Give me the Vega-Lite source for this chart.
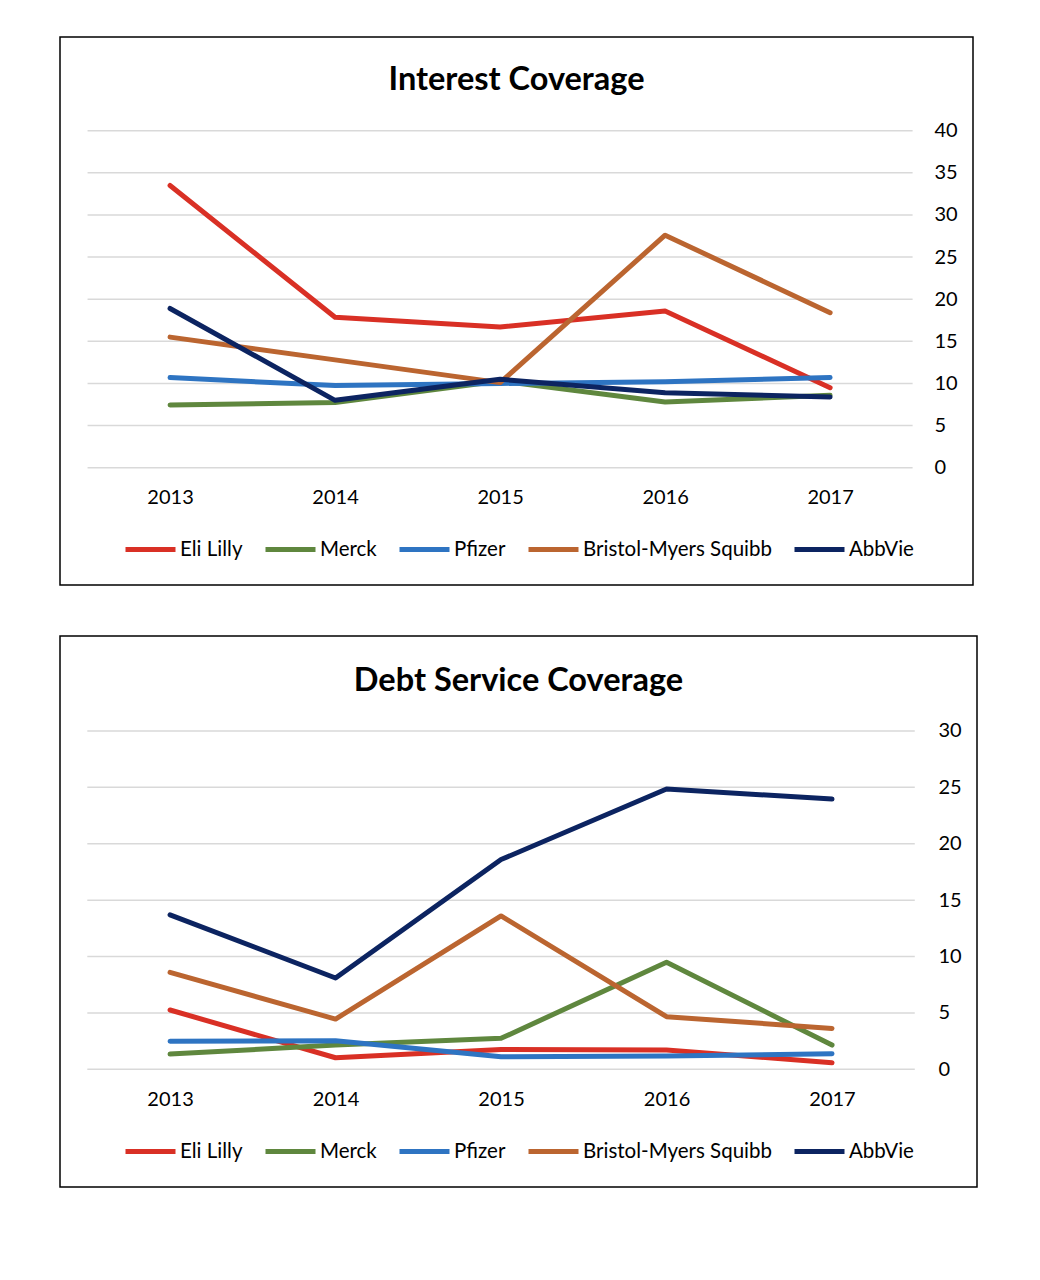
{
  "$schema": "https://vega.github.io/schema/vega-lite/v6.json",
  "padding": {"left": 59, "top": 36, "right": 0, "bottom": 0},
  "autosize": {"type": "pad"},
  "config": {
    "font": "Lato",
    "view": {"stroke": "black", "strokeWidth": 1.5},
    "axis": {"labelFont": "Lato", "labelFontSize": 20, "labelColor": "#000000", "domain": false, "ticks": false, "grid": false, "title": null},
    "legend": {"labelFont": "Lato", "labelFontSize": 20.5, "labelColor": "#000000", "labelLimit": 0},
    "title": {"font": "Lato", "fontSize": 32.5, "fontWeight": "bold", "color": "#000000"}
  },
  "datasets": {
    "interest": [
      {"year": 2013, "company": "Eli Lilly", "value": 33.5},
      {"year": 2014, "company": "Eli Lilly", "value": 17.85},
      {"year": 2015, "company": "Eli Lilly", "value": 16.7},
      {"year": 2016, "company": "Eli Lilly", "value": 18.6},
      {"year": 2017, "company": "Eli Lilly", "value": 9.5},
      {"year": 2013, "company": "Merck", "value": 7.45},
      {"year": 2014, "company": "Merck", "value": 7.75},
      {"year": 2015, "company": "Merck", "value": 10.3},
      {"year": 2016, "company": "Merck", "value": 7.8},
      {"year": 2017, "company": "Merck", "value": 8.6},
      {"year": 2013, "company": "Pfizer", "value": 10.7},
      {"year": 2014, "company": "Pfizer", "value": 9.75},
      {"year": 2015, "company": "Pfizer", "value": 10.0},
      {"year": 2016, "company": "Pfizer", "value": 10.2},
      {"year": 2017, "company": "Pfizer", "value": 10.7},
      {"year": 2013, "company": "Bristol-Myers Squibb", "value": 15.5},
      {"year": 2014, "company": "Bristol-Myers Squibb", "value": 12.8},
      {"year": 2015, "company": "Bristol-Myers Squibb", "value": 10.1},
      {"year": 2016, "company": "Bristol-Myers Squibb", "value": 27.6},
      {"year": 2017, "company": "Bristol-Myers Squibb", "value": 18.4},
      {"year": 2013, "company": "AbbVie", "value": 18.9},
      {"year": 2014, "company": "AbbVie", "value": 8.0},
      {"year": 2015, "company": "AbbVie", "value": 10.5},
      {"year": 2016, "company": "AbbVie", "value": 8.9},
      {"year": 2017, "company": "AbbVie", "value": 8.4}
    ],
    "dscr": [
      {"year": 2013, "company": "Eli Lilly", "value": 5.26},
      {"year": 2014, "company": "Eli Lilly", "value": 1.03},
      {"year": 2015, "company": "Eli Lilly", "value": 1.77},
      {"year": 2016, "company": "Eli Lilly", "value": 1.71},
      {"year": 2017, "company": "Eli Lilly", "value": 0.59},
      {"year": 2013, "company": "Merck", "value": 1.36},
      {"year": 2014, "company": "Merck", "value": 2.15},
      {"year": 2015, "company": "Merck", "value": 2.75},
      {"year": 2016, "company": "Merck", "value": 9.49},
      {"year": 2017, "company": "Merck", "value": 2.15},
      {"year": 2013, "company": "Pfizer", "value": 2.5},
      {"year": 2014, "company": "Pfizer", "value": 2.54},
      {"year": 2015, "company": "Pfizer", "value": 1.12},
      {"year": 2016, "company": "Pfizer", "value": 1.18},
      {"year": 2017, "company": "Pfizer", "value": 1.38},
      {"year": 2013, "company": "Bristol-Myers Squibb", "value": 8.6},
      {"year": 2014, "company": "Bristol-Myers Squibb", "value": 4.46},
      {"year": 2015, "company": "Bristol-Myers Squibb", "value": 13.6},
      {"year": 2016, "company": "Bristol-Myers Squibb", "value": 4.67},
      {"year": 2017, "company": "Bristol-Myers Squibb", "value": 3.63},
      {"year": 2013, "company": "AbbVie", "value": 13.7},
      {"year": 2014, "company": "AbbVie", "value": 8.1},
      {"year": 2015, "company": "AbbVie", "value": 18.6},
      {"year": 2016, "company": "AbbVie", "value": 24.85},
      {"year": 2017, "company": "AbbVie", "value": 23.96}
    ],
    "grid40": [{"v": 0}, {"v": 5}, {"v": 10}, {"v": 15}, {"v": 20}, {"v": 25}, {"v": 30}, {"v": 35}, {"v": 40}],
    "grid30": [{"v": 0}, {"v": 5}, {"v": 10}, {"v": 15}, {"v": 20}, {"v": 25}, {"v": 30}]
  },
  "spacing": 49,
  "vconcat": [
    {
      "width": 913,
      "height": 548,
      "title": {"text": "Interest Coverage", "offset": -59, "frame": "group"},
      "layer": [
        {
          "data": {"name": "grid40"},
          "mark": {"type": "rule", "color": "#d9d9d9", "strokeWidth": 1.5},
          "encoding": {
            "y": {"field": "v", "type": "quantitative", "scale": {"domain": [-13.92, 51.12], "nice": false, "zero": false}},
            "x": {"datum": 2012.5, "type": "quantitative", "scale": {"domain": [2012.333, 2017.866], "nice": false, "zero": false}},
            "x2": {"datum": 2017.5}
          }
        },
        {
          "data": {"name": "interest"},
          "mark": {"type": "line", "strokeWidth": 5, "strokeCap": "round", "strokeJoin": "round"},
          "encoding": {
            "x": {"field": "year", "type": "quantitative", "axis": {"values": [2013, 2014, 2015, 2016, 2017], "format": "d", "orient": "bottom", "offset": -117, "labelPadding": 19}},
            "y": {"field": "value", "type": "quantitative", "axis": {"values": [0, 5, 10, 15, 20, 25, 30, 35, 40], "orient": "right", "offset": -61, "labelPadding": 22, "labelBaseline": "middle"}},
            "color": {
              "field": "company",
              "type": "nominal",
              "sort": ["Eli Lilly", "Merck", "Pfizer", "Bristol-Myers Squibb", "AbbVie"],
              "scale": {"domain": ["Eli Lilly", "Merck", "Pfizer", "Bristol-Myers Squibb", "AbbVie"], "range": ["#d93025", "#5f873e", "#2e74c2", "#bb6530", "#0c2461"]},
              "legend": {"orient": "none", "legendX": 63, "legendY": 485, "direction": "horizontal", "columns": 5, "title": null, "symbolType": "stroke", "symbolSize": 2500, "symbolStrokeWidth": 5, "labelOffset": 2, "columnPadding": 12}
            }
          }
        }
      ]
    },
    {
      "width": 917,
      "height": 551,
      "title": {"text": "Debt Service Coverage", "offset": -61, "frame": "group"},
      "layer": [
        {
          "data": {"name": "grid30"},
          "mark": {"type": "rule", "color": "#d9d9d9", "strokeWidth": 1.5},
          "encoding": {
            "y": {"field": "v", "type": "quantitative", "scale": {"domain": [-10.43, 38.42], "nice": false, "zero": false}},
            "x": {"datum": 2012.5, "type": "quantitative", "scale": {"domain": [2012.335, 2017.876], "nice": false, "zero": false}},
            "x2": {"datum": 2017.5}
          }
        },
        {
          "data": {"name": "dscr"},
          "mark": {"type": "line", "strokeWidth": 5, "strokeCap": "round", "strokeJoin": "round"},
          "encoding": {
            "x": {"field": "year", "type": "quantitative", "axis": {"values": [2013, 2014, 2015, 2016, 2017], "format": "d", "orient": "bottom", "offset": -118, "labelPadding": 20}},
            "y": {"field": "value", "type": "quantitative", "axis": {"values": [0, 5, 10, 15, 20, 25, 30], "orient": "right", "offset": -62, "labelPadding": 23, "labelBaseline": "middle"}},
            "color": {
              "field": "company",
              "type": "nominal",
              "sort": ["Eli Lilly", "Merck", "Pfizer", "Bristol-Myers Squibb", "AbbVie"],
              "scale": {"domain": ["Eli Lilly", "Merck", "Pfizer", "Bristol-Myers Squibb", "AbbVie"], "range": ["#d93025", "#5f873e", "#2e74c2", "#bb6530", "#0c2461"]},
              "legend": {"orient": "none", "legendX": 63, "legendY": 488, "direction": "horizontal", "columns": 5, "title": null, "symbolType": "stroke", "symbolSize": 2500, "symbolStrokeWidth": 5, "labelOffset": 2, "columnPadding": 12}
            }
          }
        }
      ]
    }
  ],
  "resolve": {"scale": {"color": "independent"}}
}
